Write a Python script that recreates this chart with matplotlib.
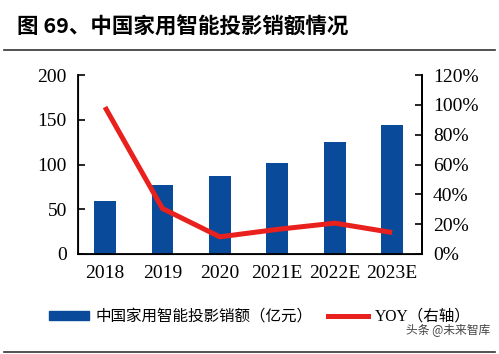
import matplotlib
matplotlib.use("Agg")
import matplotlib.pyplot as plt
from matplotlib.lines import Line2D
from matplotlib.patches import Patch

categories = ["2018", "2019", "2020", "2021E", "2022E", "2023E"]
sales = [59, 77, 87, 102, 125, 144]
yoy = [98.5, 30.5, 11.5, 16.5, 20.7, 14.4]
left_ticks = [0, 50, 100, 150, 200]
right_ticks = [0, 20, 40, 60, 80, 100, 120]

cjk = ["Noto Sans CJK SC", "DejaVu Sans"]
serif = ["Liberation Serif", "DejaVu Serif"]
mixed = ["Liberation Serif", "Noto Sans CJK SC", "DejaVu Sans"]
blue = "#0A4A9A"
red = "#E8201E"

fig = plt.figure(figsize=(4.99, 3.54), dpi=100)
ax = fig.add_axes([78/499, 1-254/354, (422-78)/499, (254-75)/354])
x = list(range(len(categories)))
ax.bar(x, sales, width=0.38, color=blue, zorder=2)
ax.set_xlim(-0.47, 5.52)
ax.set_ylim(0, 200)
ax.set_yticks(left_ticks)
ax.set_yticklabels([str(t) for t in left_ticks], family=serif, fontsize=14)
ax.set_xticks(x)
ax.set_xticklabels(categories, family=serif, fontsize=14)
ax.tick_params(axis="x", length=0, pad=8)
ax.tick_params(axis="y", direction="in", length=5, width=1.2, pad=8)
ax.spines["top"].set_visible(False)
for s in ["left", "bottom", "right"]:
    ax.spines[s].set_linewidth(1.3)

ax2 = ax.twinx()
ax2.plot(x, yoy, color=red, linewidth=3.6, solid_capstyle="butt", zorder=3)
ax2.set_ylim(0, 120)
ax2.set_yticks(right_ticks)
ax2.set_yticklabels([f"{t}%" for t in right_ticks], family=serif, fontsize=14)
ax2.tick_params(axis="y", direction="in", length=5, width=1.2, pad=8)
ax2.spines["top"].set_visible(False)
ax2.spines["right"].set_linewidth(1.3)

fig.text(17/499, 1-27/354, "图 69、中国家用智能投影销额情况", family=cjk,
         fontsize=15.5, fontweight="bold", va="center", ha="left")
fig.add_artist(Line2D([4/499, 495/499], [1-50/354, 1-50/354], color="#333333", linewidth=1.2))
fig.add_artist(Line2D([4/499, 495/499], [1-352/354, 1-352/354], color="#333333", linewidth=1.2))

handles = [Patch(facecolor=blue, edgecolor=blue),
           Line2D([0], [0], color=red, linewidth=3.6)]
labels = ["中国家用智能投影销额（亿元）", "YOY（右轴）"]
leg = fig.legend(handles, labels, loc="center", bbox_to_anchor=(0.52, 1-317/354),
                 ncol=2, frameon=False, prop={"family": mixed, "size": 11.2},
                 handlelength=2.6, handleheight=0.6, columnspacing=1.0, handletextpad=0.4)
fig.text(490/499, 1-331/354, "头条 @未来智库", family=cjk, fontsize=8.5,
         color="#444444", ha="right", va="center")

fig.savefig("out.png", dpi=100)
